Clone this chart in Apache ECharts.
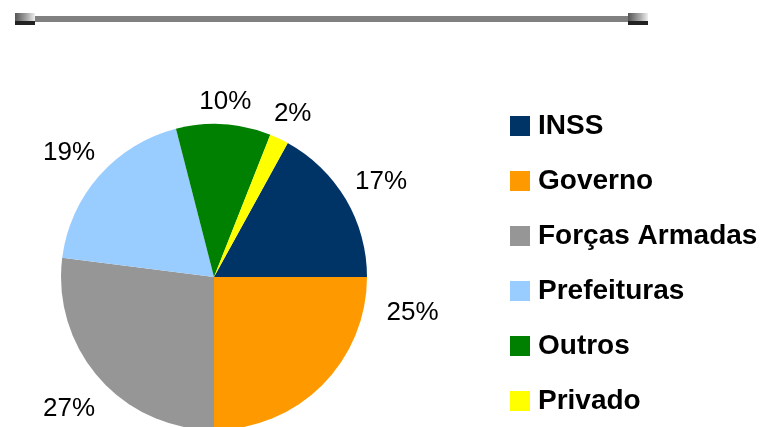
<!DOCTYPE html>
<html>
<head>
<meta charset="utf-8">
<script src="https://cdn.jsdelivr.net/npm/echarts@6/dist/echarts.min.js"></script>
<style>
  html, body { margin: 0; padding: 0; background: #fff; }
  #chart { width: 762px; height: 427px; }
</style>
</head>
<body>
<div id="chart"></div>
<script>
// dados do gráfico
const categories = ['INSS', 'Governo', 'Forças Armadas', 'Prefeituras', 'Outros', 'Privado']
const shares = [17, 25, 27, 19, 10, 2]
const colors = ['#003366', '#FF9900', '#969696', '#99CCFF', '#008000', '#FFFF00']

const chart = echarts.init(document.getElementById('chart'))

const center = [214, 277]
const radius = 153
const labelGap = 12

const total = shares.reduce((a, b) => a + b, 0)
// INSS termina às 3 horas, sentido horário
const startAngle = shares[0] / total * 360

// marcador cinza nas pontas da barra do topo
const endCap = x => ({
  type: 'group',
  children: [
    {
      type: 'rect',
      shape: { x: x, y: 13, width: 20, height: 9 },
      style: {
        fill: new echarts.graphic.LinearGradient(0, 0, 1, 0, [
          { offset: 0, color: '#555' },
          { offset: 0.6, color: '#aaa' },
          { offset: 1, color: '#eee' }
        ])
      }
    },
    { type: 'rect', shape: { x: x, y: 21, width: 20, height: 4 }, style: { fill: '#222' } }
  ]
})

// encosta a caixa do rótulo na borda da pizza (como o Excel faz)
function placeLabel(params) {
  if (categories[params.dataIndex] === 'Governo') return {}
  const r = params.labelRect
  const cx = r.x + r.width / 2
  const cy = r.y + r.height / 2
  const len = Math.hypot(cx - center[0], cy - center[1])
  const ux = (cx - center[0]) / len
  const uy = (cy - center[1]) / len
  const d = radius + labelGap + Math.abs(ux) * r.width / 2 + Math.abs(uy) * r.height / 2
  // +4: centraliza os algarismos, não a caixa de linha
  return { x: center[0] + ux * d, y: center[1] + uy * d + 4 }
}

const option = {
  animation: false,
  color: colors,
  graphic: [
    { type: 'rect', shape: { x: 35, y: 16, width: 593, height: 6 }, style: { fill: '#808080' } },
    endCap(15),
    endCap(628)
  ],
  legend: {
    orient: 'vertical',
    left: 510,
    top: 112,
    padding: 0,
    icon: 'rect',
    itemWidth: 20,
    itemHeight: 20,
    itemGap: 27,
    selectedMode: false,
    textStyle: {
      fontFamily: 'Liberation Sans',
      fontWeight: 'bold',
      fontSize: 28,
      lineHeight: 28,
      color: '#000',
      padding: [0, 0, 0, 3]
    },
    data: categories
  },
  series: [
    {
      type: 'pie',
      center: center,
      radius: [0, radius],
      startAngle: startAngle,
      clockwise: true,
      emphasis: { disabled: true },
      label: { show: false },
      labelLine: { show: false },
      data: categories.map((name, i) => ({ name: name, value: shares[i] }))
    },
    {
      // anel invisível só para posicionar os rótulos fora da pizza
      type: 'pie',
      center: center,
      radius: [176, 196],
      startAngle: startAngle,
      clockwise: true,
      silent: true,
      emphasis: { disabled: true },
      itemStyle: { color: 'rgba(0,0,0,0)' },
      label: {
        position: 'inside',
        formatter: '{d}%',
        fontFamily: 'Liberation Sans',
        fontSize: 26,
        color: '#000'
      },
      labelLine: { show: false },
      labelLayout: placeLabel,
      data: categories.map((name, i) => ({
        name: name,
        value: shares[i],
        // o rótulo de Governo foi deslocado no original
        label: name === 'Governo' ? { offset: [65, -98] } : undefined
      }))
    }
  ]
}
chart.setOption(option)
</script>
</body>
</html>
